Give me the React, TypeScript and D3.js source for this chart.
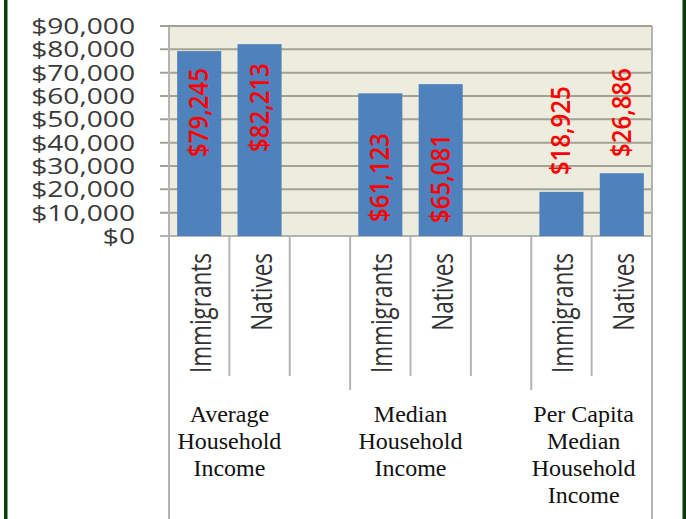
import React from "react";
import * as d3 from "d3";

const groupLines = [
  ["Average", "Household", "Income"],
  ["Median", "Household", "Income"],
  ["Per Capita", "Median", "Household", "Income"],
];
const populations = ["Immigrants", "Natives"];
const immigrants = [79245, 61123, 18925];
const natives = [82213, 65081, 26886];
// where each value label starts (in dollars on the y axis)
const labelStartImm = [33900, 6000, 26100];
const labelStartNat = [36000, 5600, 33900];
const yTicks = [0, 10000, 20000, 30000, 40000, 50000, 60000, 70000, 80000, 90000];

const W = 686;
const H = 519;
const plot = { left: 169, right: 652, top: 26, bottom: 236 };

const sans = "'Open Sans', sans-serif";
const serif = "'Liberation Serif', 'Times New Roman', serif";
const gridColor = "#a2a292";
const lineColor = "#b4b4b4";

const App = () => {
  // 8 slots: two bars per group, with an empty slot between groups
  const slots: string[] = [];
  groupLines.forEach((_, g) => {
    populations.forEach((_, p) => slots.push(`${g}-${p}`));
    if (g < groupLines.length - 1) slots.push(`${g}-gap`);
  });

  const x = d3.scaleBand<string>().domain(slots).range([plot.left, plot.right]).padding(0);
  const y = d3.scaleLinear().domain([0, 90000]).range([plot.bottom, plot.top]);
  const fmt = d3.format("$,");
  const step = x.step();
  const inset = step * 0.135;

  const bars = groupLines.flatMap((_, g) => [
    { key: `${g}-0`, pop: populations[0], value: immigrants[g], labelAt: labelStartImm[g] },
    { key: `${g}-1`, pop: populations[1], value: natives[g], labelAt: labelStartNat[g] },
  ]);

  return (
    <svg width={W} height={H} style={{ position: "absolute", left: 0, top: 0, background: "#fff" }}>
      {/* frame */}
      <rect x={4} y={0} width={3.5} height={H} fill="#0b3b0b" />
      <rect x={682.5} y={0} width={3.5} height={H} fill="#0b3b0b" />

      {/* plot background */}
      <rect x={plot.left} y={plot.top} width={plot.right - plot.left} height={plot.bottom - plot.top} fill="#ecedde" />

      {/* gridlines and ticks */}
      {yTicks.map(t => (
        <g key={t}>
          <line x1={plot.left - 9} x2={plot.right} y1={y(t)} y2={y(t)} stroke={t === 0 ? lineColor : gridColor} strokeWidth={2} />
          <text
            transform={`translate(135,${y(t) + 8}) scale(1.28,1)`}
            textAnchor="end"
            fontFamily={sans}
            fontSize={22}
            fill="#3a3a3a"
          >
            {fmt(t)}
          </text>
        </g>
      ))}

      {/* bars */}
      {bars.map(b => (
        <rect
          key={b.key}
          x={x(b.key)! + inset}
          width={step - 2 * inset}
          y={y(b.value)}
          height={y(0) - y(b.value)}
          fill="#4f81bd"
        />
      ))}

      {/* plot borders */}
      <line x1={plot.left} x2={plot.left} y1={plot.top} y2={H} stroke={lineColor} strokeWidth={2} />
      <line x1={plot.right} x2={plot.right} y1={plot.top} y2={H} stroke={lineColor} strokeWidth={2} />
      <line x1={plot.left - 9} x2={plot.right} y1={plot.top} y2={plot.top} stroke={gridColor} strokeWidth={2} />

      {/* slot dividers below axis */}
      {slots.slice(1).map(s => {
        const isGroupStart = s.endsWith("-0");
        return (
          <line
            key={s}
            x1={x(s)!}
            x2={x(s)!}
            y1={plot.bottom}
            y2={isGroupStart ? 390 : 376}
            stroke={lineColor}
            strokeWidth={2}
          />
        );
      })}

      {/* value labels */}
      {bars.map(b => {
        const cx = x(b.key)! + step / 2;
        return (
          <text
            key={"v" + b.key}
            transform={`translate(${cx + 9},${y(b.labelAt)}) rotate(-90) scale(1,1.1)`}
            textAnchor="start"
            fontFamily={sans}
            fontSize={24}
            fontWeight={600}
            fill="#ff0000"
          >
            {fmt(b.value)}
          </text>
        );
      })}

      {/* population labels */}
      {bars.map(b => {
        const cx = x(b.key)! + step / 2;
        return (
          <text
            key={"p" + b.key}
            transform={`translate(${cx + 12},253) rotate(-90) scale(1,1.28)`}
            textAnchor="end"
            fontFamily={sans}
            fontSize={22.5}
            fill="#333"
          >
            {b.pop}
          </text>
        );
      })}

      {/* group labels */}
      {groupLines.map((lines, g) => {
        const mid = (x(`${g}-0`)! + x(`${g}-1`)! + step) / 2;
        // the last label sits a little left of its group's middle in the picture
        const cx = g === groupLines.length - 1 ? mid - 8 : mid;
        return (
          <text key={"g" + g} textAnchor="middle" fontFamily={serif} fontSize={24} fill="#111">
            {lines.map((l, i) => (
              <tspan key={i} x={cx} y={422 + i * 27}>
                {l}
              </tspan>
            ))}
          </text>
        );
      })}
    </svg>
  );
};

export default App;
